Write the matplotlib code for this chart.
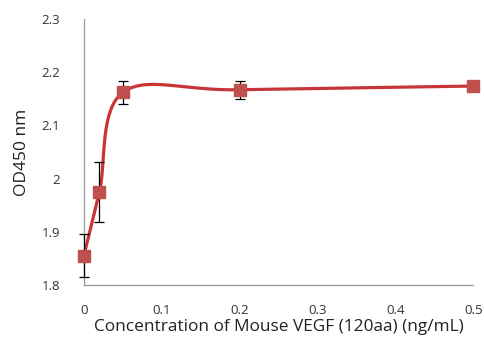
import numpy as np
import matplotlib
matplotlib.use("Agg")
from matplotlib import pyplot as plt

conc = [0, 0.02, 0.05, 0.2, 0.5]
od = [1.855, 1.975, 2.162, 2.167, 2.174]
err = [0.04, 0.057, 0.022, 0.017, 0.0]

xticks = [0, 0.1, 0.2, 0.3, 0.4, 0.5]
xticklabels = ["0", "0.1", "0.2", "0.3", "0.4", "0.5"]
yticks = [1.8, 1.9, 2.0, 2.1, 2.2, 2.3]
yticklabels = ["1.8", "1.9", "2", "2.1", "2.2", "2.3"]

line_red = "#c83536"
mark_red = "#c0504d"

plt.rcParams['font.family'] = ['Open Sans', 'DejaVu Sans']

fig = plt.figure(figsize=(4.85, 3.4), dpi=100)
ax = fig.add_axes([0.173, 0.162, 0.803, 0.782])
ax.set_xlim(0, 0.5)
ax.set_ylim(1.8, 2.3)


def smooth(xs, ys, n=40):
    # Excel-like smoothed line: Bezier with Catmull-Rom control points, in screen space
    sx, sy = 390.0, 266.0
    p = np.column_stack([np.array(xs) / 0.5 * sx, (np.array(ys) - 1.8) / 0.5 * sy])
    pts = np.vstack([p[0], p, p[-1]])
    out = []
    t = np.linspace(0, 1, n)[:, None]
    for i in range(1, len(pts) - 2):
        p0, p1, p2, p3 = pts[i - 1], pts[i], pts[i + 1], pts[i + 2]
        c1 = p1 + (p2 - p0) / 6
        c2 = p2 - (p3 - p1) / 6
        seg = (1 - t) ** 3 * p1 + 3 * (1 - t) ** 2 * t * c1 + 3 * (1 - t) * t ** 2 * c2 + t ** 3 * p2
        out.append(seg)
    out = np.vstack(out)
    return out[:, 0] / sx * 0.5, out[:, 1] / sy * 0.5 + 1.8


cx, cy = smooth(conc, od)
ax.plot(cx, cy, color=line_red, lw=2.3, zorder=2, clip_on=False)
eb = ax.errorbar(conc, od, yerr=err, fmt='none', ecolor='black', elinewidth=0.9,
                 capsize=3.5, capthick=0.9, zorder=3)
for a in eb.lines[1] + eb.lines[2]:
    a.set_clip_on(False)
ax.plot(conc, od, 's', color=mark_red, markersize=8.5, zorder=4, clip_on=False)

ax.set_xticks(xticks)
ax.set_xticklabels(xticklabels)
ax.set_yticks(yticks)
ax.set_yticklabels(yticklabels)
ax.tick_params(length=0, labelsize=9.5, colors='#333333')
ax.tick_params(axis='x', pad=14)
ax.tick_params(axis='y', pad=17)

for s in ['top', 'right']:
    ax.spines[s].set_visible(False)
for s in ['left', 'bottom']:
    ax.spines[s].set_color('#999999')
    ax.spines[s].set_linewidth(0.9)

ax.set_xlabel("Concentration of Mouse VEGF (120aa) (ng/mL)", fontsize=12.4, color='#222222', labelpad=1)
ax.set_ylabel("OD450 nm", fontsize=12.5, color='#222222', labelpad=8)

fig.savefig("out.png", dpi=100)
